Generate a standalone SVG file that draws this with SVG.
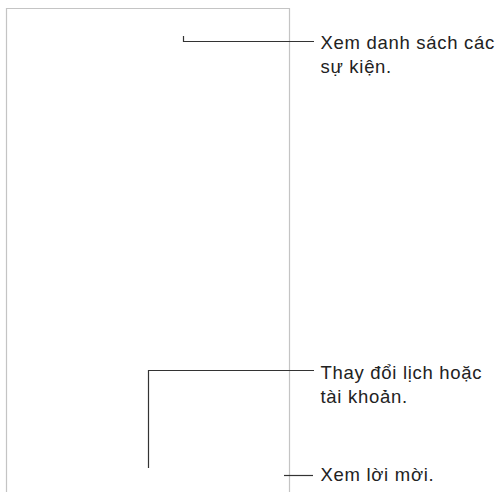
<svg xmlns="http://www.w3.org/2000/svg" width="497" height="492" viewBox="0 0 497 492">
<style>
.frame{fill:none;stroke:#c4c4c4;stroke-width:1.2}
.lead{fill:none;stroke:#333;stroke-width:1.2}
.lbl{font-family:"Liberation Sans",Arial,sans-serif;font-size:18.5px;letter-spacing:0.7px;fill:#222}
</style>
<rect width="497" height="492" fill="#fff"/>
<g id="screen">
<path class="frame" d="M6.5,500 V8.5 H289.5 V500"/>
</g>
<g id="connectors">
<path class="lead" d="M183.5,36 V41.5 H314"/>
<path class="lead" d="M148.5,468 V370.5 H314"/>
<path class="lead" d="M284,475.5 H313"/>
</g>
<g id="label-events">
<text class="lbl" x="320.5" y="49">Xem danh sách các</text>
<text class="lbl" x="320.5" y="73">sự kiện.</text>
</g>
<g id="label-calendars">
<text class="lbl" x="320.5" y="379">Thay đổi lịch hoặc</text>
<text class="lbl" x="320.5" y="402.5">tài khoản.</text>
</g>
<g id="label-invites">
<text class="lbl" x="320.5" y="481">Xem lời mời.</text>
</g>
</svg>
